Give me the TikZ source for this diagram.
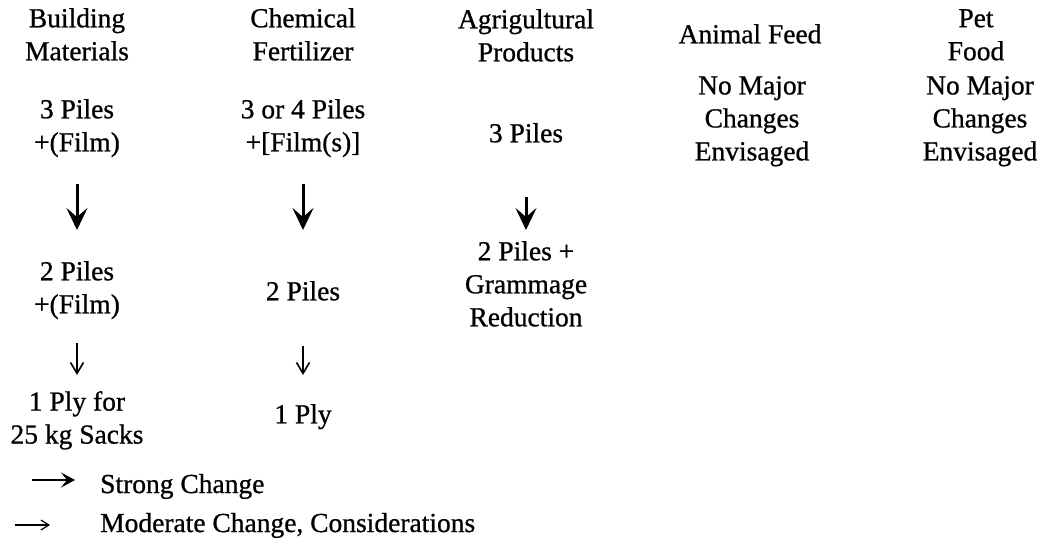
\documentclass[tikz,border=0pt]{standalone}
\usepackage{fontspec}
\setmainfont{Liberation Serif}[UprightFeatures={FakeBold=0.8}]
\usetikzlibrary{
	arrows.meta,
	positioning
}

\tikzset{
	txt/.style={align=center, inner sep=0pt, anchor=north, font=\fontsize{27.5}{33}\selectfont},
	strongchg/.style={line width=3pt, -{Stealth[length=22pt, width=21pt, inset=9pt]}},
	modchg/.style={line width=1.6pt, -{Straight Barb[length=11pt, width=13pt]}},
	strongkey/.style={line width=2pt, -{Stealth[length=14pt, width=15pt, inset=6pt]}},
	modkey/.style={line width=1.2pt, -{Straight Barb[length=8pt, width=10pt]}}
}

\begin{document}
\begin{tikzpicture}[x=1pt, y=-1pt]
		\useasboundingbox (0,0) rectangle (1044,547);
		
		% headers
		\node[txt] (bmHead) at (77,8) {Building\\Materials};
		\node[txt] (cfHead) at (303,8) {Chemical\\Fertilizer};
		\node[txt] (apHead) at (526,9) {Agrigultural\\Products};
		\node[txt] (afHead) at (750,24) {Animal Feed};
		\node[txt] (pfHead) at (976,9) {Pet\\Food};
		
		% building materials
		\node[txt] (bmTop) at (77,99) {3 Piles\\+(Film)};
		\node[txt] (bmMid) at (77,261) {2 Piles\\+(Film)};
		\node[txt] (bmLow) at (77,391) {1 Ply for\\25 kg Sacks};
		\draw[strongchg, shorten <=27pt, shorten >=31pt] (bmTop.south) -- (bmMid.north);
		\draw[modchg, shorten <=24pt, shorten >=16pt] (bmMid.south) -- (bmLow.north);
		
		% chemical fertilizer
		\node[txt] (cfTop) at (303,99) {3 or 4 Piles\\+[Film(s)]};
		\node[txt] (cfMid) at (303,281) {2 Piles};
		\node[txt] (cfLow) at (303,404) {1 Ply};
		\draw[strongchg, shorten <=27pt, shorten >=51pt] (cfTop.south) -- (cfMid.north);
		\draw[modchg, shorten <=45pt, shorten >=29pt] (cfMid.south) -- (cfLow.north);
		
		% agricultural products
		\node[txt] (apTop) at (526,123) {3 Piles};
		\node[txt] (apMid) at (526,241) {2 Piles +\\Grammage\\Reduction};
		\draw[strongchg, shorten <=54pt, shorten >=11pt] (apTop.south) -- (apMid.north);
		
		% no changes
		\node[txt] (afNote) at (752,76) {No Major\\Changes\\Envisaged};
		\node[txt] (pfNote) at (980,76) {No Major\\Changes\\Envisaged};
		
		% legend
		\node[txt, anchor=base west] (strong) at (100,493) {Strong Change};
		\node[txt, anchor=base west] (moderate) at (100,532) {Moderate Change, Considerations};
		\coordinate (strongKey) at (32,480);
		\coordinate (modKey) at (15,525);
		\draw[strongkey, shorten >=25pt] (strongKey) -- (strongKey -| strong.west);
		\draw[modkey, shorten >=50pt] (modKey) -- (modKey -| moderate.west);
	\end{tikzpicture}
\end{document}
